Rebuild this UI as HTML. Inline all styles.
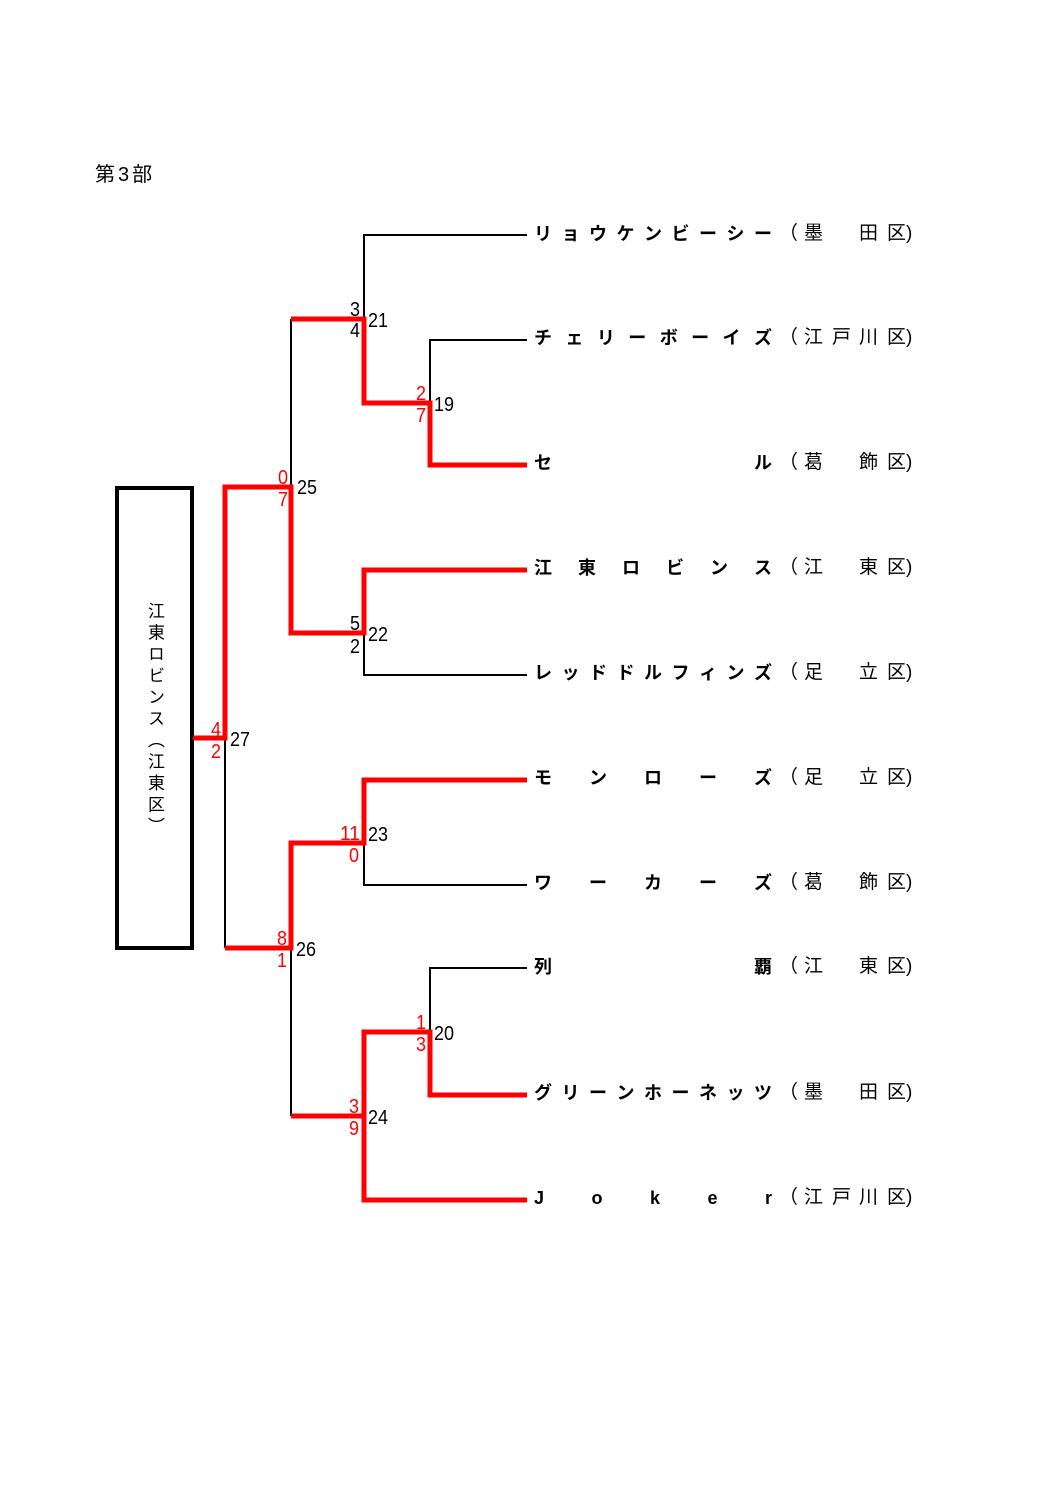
<!DOCTYPE html>
<html><head><meta charset="utf-8"><style>
html,body{margin:0;padding:0;background:#fff;}
#p{position:relative;width:1058px;height:1497px;overflow:hidden;font-family:"Liberation Sans","Noto Sans CJK JP",sans-serif;}
.t{position:absolute;left:534px;width:238px;display:flex;justify-content:space-between;font-weight:bold;font-size:18px;line-height:20px;height:20px;}
.c{position:absolute;font-size:19px;line-height:20px;}
</style></head><body><div id="p">
<svg width="1058" height="1497" style="position:absolute;left:0;top:0">
<g fill="none" stroke="#000" stroke-width="2">
<path d="M364 319V235H527"/>
<path d="M430 403V340H527"/>
<path d="M291 487V319"/>
<path d="M364 633V675H527"/>
<path d="M225 738V948"/>
<path d="M364 843V885H527"/>
<path d="M291 948V1116"/>
<path d="M430 1032V968H527"/>
<rect x="117" y="488" width="75" height="460" stroke-width="4"/>
</g>
<g fill="none" stroke="#f00" stroke-width="5">
<path d="M291 319H364V403H430V465H527"/>
<path d="M193 738H225V487H291V633H364V570H527"/>
<path d="M225 948H291V843H364V780H527"/>
<path d="M291 1116H364V1032H430V1095H527"/>
<path d="M364 1116V1200H527"/>
</g>
<g font-family="Liberation Sans, sans-serif" font-size="20">
<g fill="#000">
<text x="297" y="494" textLength="20" lengthAdjust="spacingAndGlyphs">25</text>
<text x="368" y="327" textLength="20" lengthAdjust="spacingAndGlyphs">21</text>
<text x="434" y="411" textLength="20" lengthAdjust="spacingAndGlyphs">19</text>
<text x="368" y="641" textLength="20" lengthAdjust="spacingAndGlyphs">22</text>
<text x="230" y="746" textLength="20" lengthAdjust="spacingAndGlyphs">27</text>
<text x="368" y="841" textLength="20" lengthAdjust="spacingAndGlyphs">23</text>
<text x="296" y="956" textLength="20" lengthAdjust="spacingAndGlyphs">26</text>
<text x="434" y="1040" textLength="20" lengthAdjust="spacingAndGlyphs">20</text>
<text x="368" y="1124" textLength="20" lengthAdjust="spacingAndGlyphs">24</text>
<text x="350" y="316" textLength="10" lengthAdjust="spacingAndGlyphs">3</text><text x="350" y="337" textLength="10" lengthAdjust="spacingAndGlyphs">4</text>
<text x="350" y="630" textLength="10" lengthAdjust="spacingAndGlyphs">5</text><text x="350" y="653" textLength="10" lengthAdjust="spacingAndGlyphs">2</text>
</g>
<g fill="#f00">
<text x="416" y="400" textLength="10" lengthAdjust="spacingAndGlyphs">2</text><text x="416" y="422" textLength="10" lengthAdjust="spacingAndGlyphs">7</text>
<text x="278" y="484" textLength="10" lengthAdjust="spacingAndGlyphs">0</text><text x="278" y="506" textLength="10" lengthAdjust="spacingAndGlyphs">7</text>
<text x="211" y="736" textLength="10" lengthAdjust="spacingAndGlyphs">4</text><text x="211" y="758" textLength="10" lengthAdjust="spacingAndGlyphs">2</text>
<text x="340" y="840" textLength="20" lengthAdjust="spacingAndGlyphs">11</text><text x="349" y="862" textLength="10" lengthAdjust="spacingAndGlyphs">0</text>
<text x="277" y="945" textLength="10" lengthAdjust="spacingAndGlyphs">8</text><text x="277" y="967" textLength="10" lengthAdjust="spacingAndGlyphs">1</text>
<text x="416" y="1029" textLength="10" lengthAdjust="spacingAndGlyphs">1</text><text x="416" y="1051" textLength="10" lengthAdjust="spacingAndGlyphs">3</text>
<text x="349" y="1113" textLength="10" lengthAdjust="spacingAndGlyphs">3</text><text x="349" y="1135" textLength="10" lengthAdjust="spacingAndGlyphs">9</text>
</g>
</g>
</svg>
<div class="c" style="left:95px;top:165px;font-size:20px;letter-spacing:3px">第3部</div>
<div style="position:absolute;left:144px;top:602px;writing-mode:vertical-rl;font-size:17px;line-height:20px;letter-spacing:4.5px">江東ロビンス（江東区）</div>

<div class="t" style="top:224px"><span>リ</span><span>ョ</span><span>ウ</span><span>ケ</span><span>ン</span><span>ビ</span><span>ー</span><span>シ</span><span>ー</span></div>
<div class="t" style="top:328px"><span>チ</span><span>ェ</span><span>リ</span><span>ー</span><span>ボ</span><span>ー</span><span>イ</span><span>ズ</span></div>
<div class="t" style="top:453px"><span>セ</span><span>ル</span></div>
<div class="t" style="top:558px"><span>江</span><span>東</span><span>ロ</span><span>ビ</span><span>ン</span><span>ス</span></div>
<div class="t" style="top:663px"><span>レ</span><span>ッ</span><span>ド</span><span>ド</span><span>ル</span><span>フ</span><span>ィ</span><span>ン</span><span>ズ</span></div>
<div class="t" style="top:768px"><span>モ</span><span>ン</span><span>ロ</span><span>ー</span><span>ズ</span></div>
<div class="t" style="top:873px"><span>ワ</span><span>ー</span><span>カ</span><span>ー</span><span>ズ</span></div>
<div class="t" style="top:957px"><span>列</span><span>覇</span></div>
<div class="t" style="top:1083px"><span>グ</span><span>リ</span><span>ー</span><span>ン</span><span>ホ</span><span>ー</span><span>ネ</span><span>ッ</span><span>ツ</span></div>
<div class="t" style="top:1188px"><span>J</span><span>o</span><span>k</span><span>e</span><span>r</span></div>

<div class="c" style="left:779px;top:224px">（</div><div class="c" style="left:804px;top:224px">墨</div><div class="c" style="left:859px;top:224px">田</div><div class="c" style="left:887px;top:224px">区)</div>
<div class="c" style="left:779px;top:328px">（</div><div class="c" style="left:804px;top:328px">江</div><div class="c" style="left:832px;top:328px">戸</div><div class="c" style="left:859px;top:328px">川</div><div class="c" style="left:887px;top:328px">区)</div>
<div class="c" style="left:779px;top:453px">（</div><div class="c" style="left:804px;top:453px">葛</div><div class="c" style="left:859px;top:453px">飾</div><div class="c" style="left:887px;top:453px">区)</div>
<div class="c" style="left:779px;top:558px">（</div><div class="c" style="left:804px;top:558px">江</div><div class="c" style="left:859px;top:558px">東</div><div class="c" style="left:887px;top:558px">区)</div>
<div class="c" style="left:779px;top:663px">（</div><div class="c" style="left:804px;top:663px">足</div><div class="c" style="left:859px;top:663px">立</div><div class="c" style="left:887px;top:663px">区)</div>
<div class="c" style="left:779px;top:768px">（</div><div class="c" style="left:804px;top:768px">足</div><div class="c" style="left:859px;top:768px">立</div><div class="c" style="left:887px;top:768px">区)</div>
<div class="c" style="left:779px;top:873px">（</div><div class="c" style="left:804px;top:873px">葛</div><div class="c" style="left:859px;top:873px">飾</div><div class="c" style="left:887px;top:873px">区)</div>
<div class="c" style="left:779px;top:957px">（</div><div class="c" style="left:804px;top:957px">江</div><div class="c" style="left:859px;top:957px">東</div><div class="c" style="left:887px;top:957px">区)</div>
<div class="c" style="left:779px;top:1083px">（</div><div class="c" style="left:804px;top:1083px">墨</div><div class="c" style="left:859px;top:1083px">田</div><div class="c" style="left:887px;top:1083px">区)</div>
<div class="c" style="left:779px;top:1188px">（</div><div class="c" style="left:804px;top:1188px">江</div><div class="c" style="left:832px;top:1188px">戸</div><div class="c" style="left:859px;top:1188px">川</div><div class="c" style="left:887px;top:1188px">区)</div>
</div></body></html>
